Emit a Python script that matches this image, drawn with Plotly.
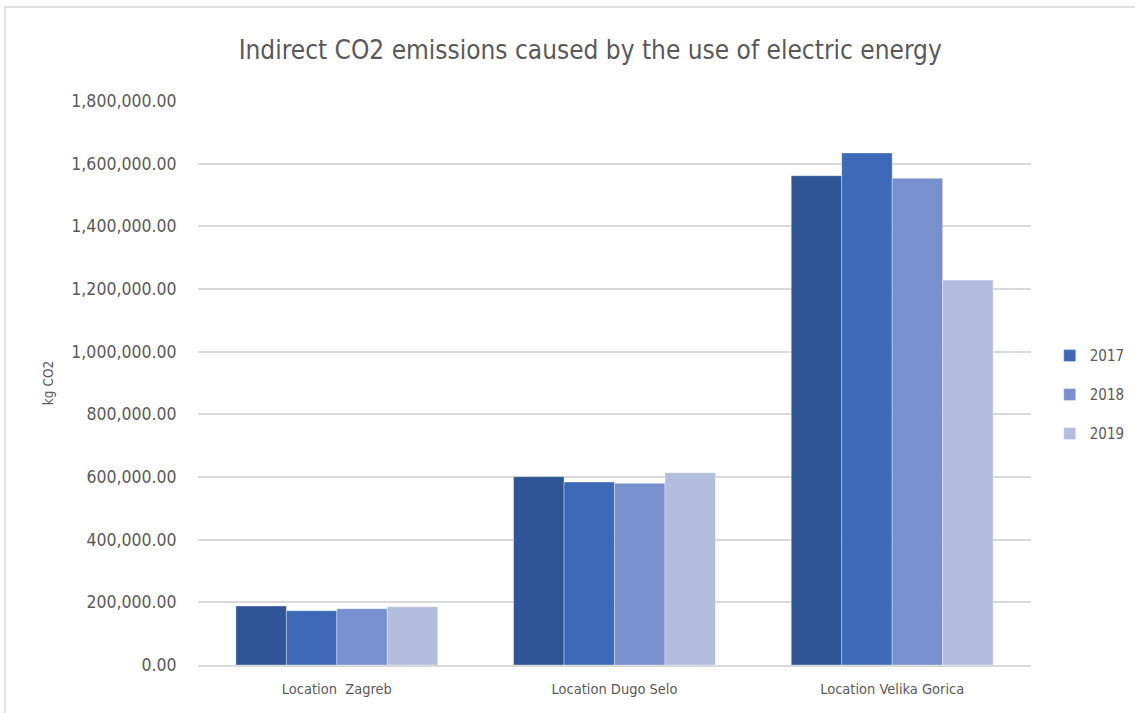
import plotly.graph_objects as go

# Emissions per location (kg CO2)
locations = ["Location\u00a0 Zagreb", "Location Dugo Selo", "Location Velika Gorica"]
series_names = ["", "2017", "2018", "2019"]
values_first = [188300, 601000, 1561600]
values_2017 = [173300, 584000, 1634000]
values_2018 = [179700, 580000, 1553200]
values_2019 = [186100, 613800, 1228700]
y_ticks = [0, 200000, 400000, 600000, 800000, 1000000, 1200000, 1400000, 1600000, 1800000]

colors = ["#2F5597", "#3D69B6", "#7891CE", "#B3BEDF"]
FONT = "DejaVu Sans Condensed, sans-serif"
TEXT = "#595959"

fig = go.Figure()
all_values = [values_first, values_2017, values_2018, values_2019]
for i, (name, vals, col) in enumerate(zip(series_names, all_values, colors)):
    fig.add_trace(go.Bar(
        x=locations, y=vals, name=name, legendgroup=f"g{i}",
        marker=dict(color=col, line=dict(color="rgba(255,255,255,0.35)", width=1)),
        showlegend=bool(name),
    ))

fig.update_layout(
    width=1135, height=713,
    margin=dict(l=198, r=104, t=101, b=48, autoexpand=False),
    paper_bgcolor="white", plot_bgcolor="white",
    barmode="group", bargap=0.273, bargroupgap=0,
    font=dict(family=FONT, color=TEXT),
    title=dict(text="Indirect CO2 emissions caused by the use of electric energy",
               x=0.52, xanchor="center", y=0.93, yanchor="middle",
               font=dict(size=26, color=TEXT, family=FONT)),
    legend=dict(x=1.0225, y=0.479, xanchor="left", yanchor="middle",
                font=dict(size=15, color=TEXT), traceorder="grouped",
                tracegroupgap=16.5, itemwidth=30, bgcolor="rgba(0,0,0,0)"),
    shapes=[dict(type="rect", xref="paper", yref="paper",
                 x0=-0.2317, x1=1.3, y0=-0.3, y1=1.1667,
                 line=dict(color="#D9D9D9", width=1.5), layer="below")],
)
fig.update_xaxes(showgrid=False, showline=True, linecolor="#D9D9D9", linewidth=1.5,
                 tickfont=dict(size=14.5, color=TEXT), ticks="outside", ticklen=10,
                 tickcolor="rgba(0,0,0,0)")
fig.update_yaxes(range=[0, 1800000], tickvals=y_ticks, tickformat=",.2f",
                 showgrid=True, gridcolor="#D9D9D9", gridwidth=1.5, zeroline=False,
                 tickfont=dict(size=17.5, color=TEXT), ticks="outside", ticklen=17,
                 tickcolor="rgba(0,0,0,0)",
                 title=dict(text="kg CO2", font=dict(size=13.5, color=TEXT), standoff=14))

fig.write_html("out.html")
